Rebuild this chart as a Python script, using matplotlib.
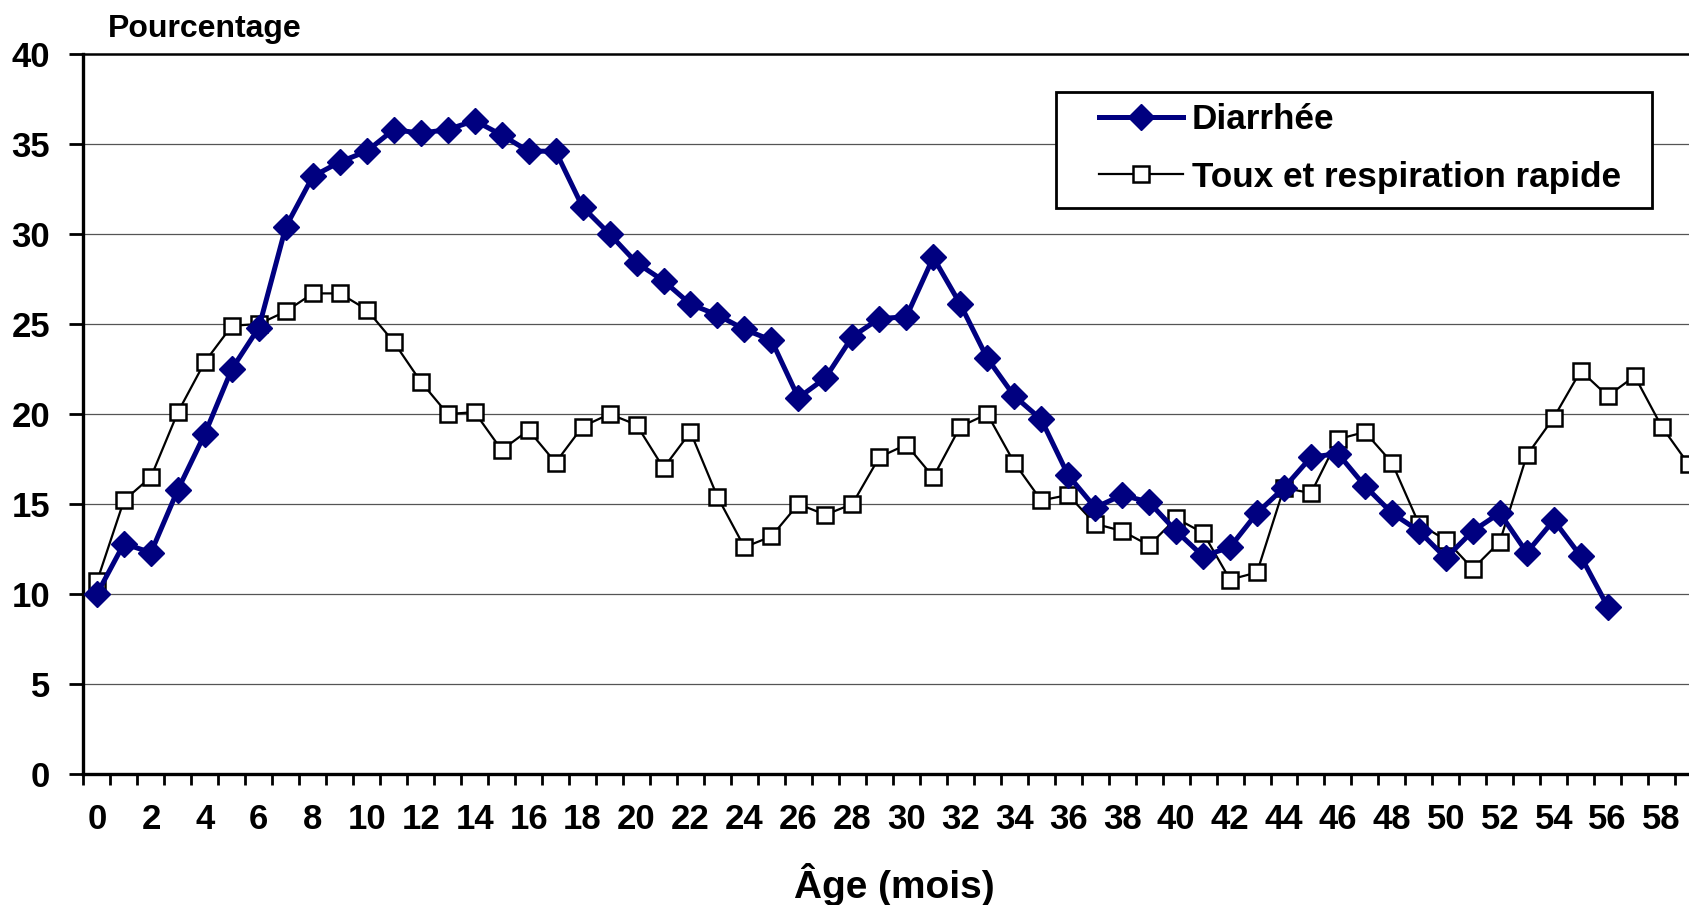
import numpy as np
import matplotlib
matplotlib.use('Agg')
from matplotlib import pyplot as plt
from matplotlib.patches import Rectangle

# données
ages = list(range(60))
diarrhee = [10.0, 12.8, 12.3, 15.8, 18.9, 22.5, 24.8, 30.4, 33.2, 34.0,
            34.6, 35.8, 35.6, 35.8, 36.3, 35.5, 34.6, 34.6, 31.5, 30.0,
            28.4, 27.4, 26.1, 25.5, 24.7, 24.1, 20.9, 22.0, 24.3, 25.3,
            25.4, 28.7, 26.1, 23.1, 21.0, 19.7, 16.6, 14.8, 15.5, 15.1,
            13.5, 12.1, 12.6, 14.5, 15.9, 17.6, 17.8, 16.0, 14.5, 13.5,
            12.0, 13.5, 14.5, 12.3, 14.1, 12.1, 9.3]
toux = [10.7, 15.2, 16.5, 20.1, 22.9, 24.9, 25.0, 25.7, 26.7, 26.7,
        25.8, 24.0, 21.8, 20.0, 20.1, 18.0, 19.1, 17.3, 19.3, 20.0,
        19.4, 17.0, 19.0, 15.4, 12.6, 13.2, 15.0, 14.4, 15.0, 17.6,
        18.3, 16.5, 19.3, 20.0, 17.3, 15.2, 15.5, 13.9, 13.5, 12.7,
        14.2, 13.4, 10.8, 11.2, 15.9, 15.6, 18.6, 19.0, 17.3, 13.9,
        13.0, 11.4, 12.9, 17.7, 19.8, 22.4, 21.0, 22.1, 19.3, 17.2]
y_ticks = [0, 5, 10, 15, 20, 25, 30, 35, 40]

plt.rcParams['font.family'] = ['Liberation Sans', 'DejaVu Sans']
plt.rcParams['font.weight'] = 'bold'

W, H = 1690, 905
fig = plt.figure(figsize=(W / 100, H / 100), dpi=100)
ax = fig.add_axes([83.5 / W, 131 / H, 1 - 83.5 / W, 720 / H])

ax.set_xlim(-0.5, 59.05)
ax.set_ylim(0, 40)

# grille horizontale
for y in y_ticks[1:-1]:
    ax.axhline(y, color='#555555', linewidth=0.9, zorder=1)

ax.plot(ages[:len(toux)], toux, color='black', linewidth=1.6,
        marker='s', markersize=12, markerfacecolor='white',
        markeredgecolor='black', markeredgewidth=1.8,
        label='Toux et respiration rapide', zorder=3, clip_on=False)
ax.plot(ages[:len(diarrhee)], diarrhee, color='#000080', linewidth=3.6,
        marker='D', markersize=13.5, markerfacecolor='#000080',
        markeredgecolor='#000080', label='Diarrhée', zorder=4)

# axes
ax.spines['right'].set_visible(False)
ax.spines['left'].set_linewidth(2.4)
ax.spines['bottom'].set_linewidth(2.4)
ax.spines['top'].set_linewidth(1.8)

ax.set_yticks(y_ticks)
ax.set_yticklabels([str(v) for v in y_ticks])
ax.tick_params(axis='y', direction='out', length=10, width=2, pad=14, labelsize=25)

ax.set_xticks(np.arange(-0.5, 59, 1))
ax.set_xticklabels([])
ax.tick_params(axis='x', which='major', direction='out', length=8, width=2)
ax.set_xticks(ages[::2], minor=True)
ax.set_xticklabels([str(a) for a in ages[::2]], minor=True)
ax.tick_params(axis='x', which='minor', length=0, pad=21, labelsize=25)

ax.set_xlabel('Âge (mois)', fontsize=28, fontweight='bold')
ax.xaxis.set_label_coords(0.505, -0.123)
fig.text(108 / W, 1 - 37 / H, 'Pourcentage', fontsize=23,
         fontweight='bold', va='baseline', ha='left')

# cadre de la légende dessiné à part
frame = Rectangle((1056 / W, 1 - 208 / H), 596 / W, 116 / H,
                  transform=fig.transFigure, facecolor='white',
                  edgecolor='black', linewidth=2, zorder=5, clip_on=False)
ax.add_patch(frame)

handles, labels = ax.get_legend_handles_labels()
leg = ax.legend(handles[::-1], labels[::-1], loc='upper left',
                bbox_to_anchor=(1099 / W, 1 - 103 / H),
                bbox_transform=fig.transFigure, borderaxespad=0,
                fontsize=25.3, frameon=False, handlelength=2.4,
                handletextpad=0.25, labelspacing=0.7, borderpad=0)
leg.set_zorder(6)

fig.savefig('out.png')
